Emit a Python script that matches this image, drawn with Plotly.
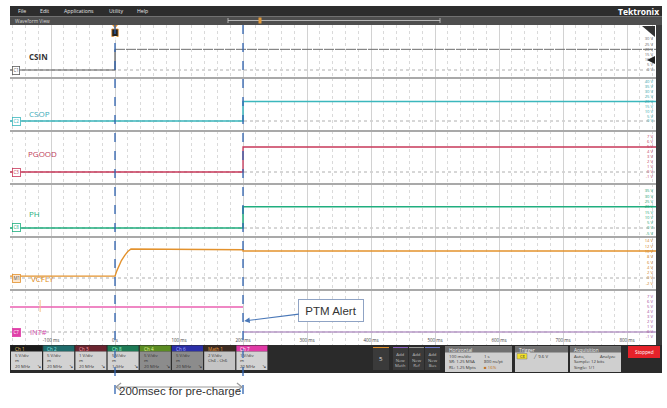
import plotly.graph_objects as go

# ---------------- data (ms / volts) ----------------
csin_t = [-164, 0, 0, 846]
csin_v = [0, 0, 20, 20]
step_t = [-164, 200, 200, 846]
csop_v = [0, 0, 20, 20]
pgood_v = [0, 0, 5, 5]
ph_v = [0, 0, 20, 20]
vcfly_t = [-164, 0, 3, 6, 10, 15, 20, 25, 100, 200, 200, 846]
vcfly_v = [0.7, 0.7, 2.8, 4.6, 6.6, 8.5, 10.0, 11.0, 10.8, 10.7, 10.2, 10.2]
int_t = [-164, 200, 200, 846]
int_v = [5, 5, 0, 0]
glitch_t = [-117, -117]
glitch_v = [4.0, 6.4]

cursor_t = [0, 200]
time_ticks = [-100, 0, 100, 200, 300, 400, 500, 600, 700, 800]
time_labels = ["-100 ms", "0 s", "100 ms", "200 ms", "300 ms", "400 ms",
               "500 ms", "600 ms", "700 ms", "800 ms"]

names = ["CSIN", "CSOP", "PGOOD", "PH", "VCFLY", "INT#"]
badges = ["C1", "C2", "C3", "C8", "M1", "C7"]
ytick_sets = [
    [0, 5, 10, 15, 20, 25, 30],
    [0, 5, 10, 15, 20, 25, 30, 35, 40],
    [-1, 0, 1, 2, 3, 4, 5, 6, 7],
    [-5, 0, 5, 10, 15, 20, 25, 30, 35],
    [-2, 0, 2, 4, 6, 8, 10, 12, 14],
    [-1, 0, 1, 2, 3, 4, 5, 6, 7],
]

box_names = ["Ch 1", "Ch 2", "Ch 3", "Ch 8", "Ch 4", "Ch 6", "Math 1", "Ch 7"]
box_scale = ["5 V/div", "5 V/div", "1 V/div", "5 V/div", "5 V/div", "5 V/div", "2 V/div", "1 V/div"]
box_line2 = ["m", "m", "m", "m", "m", "m", "Ch4 - Ch6", "m"]
box_bw = ["20 MHz", "20 MHz", "20 MHz", "1 GHz", "20 MHz", "20 MHz", "", "20 MHz"]

menu_items = ["File", "Edit", "Applications", "Utility", "Help"]

# ---------------- layout helpers ----------------
W, H = 667, 408
def X(p): return p / W
def Y(p): return 1 - p / H

T0_PX, PX_PER_MS = 115.0, 0.64
PL, PR = 10, 656
t_left = (PL - T0_PX) / PX_PER_MS
t_right = (PR - T0_PX) / PX_PER_MS

UI = "Open Sans"
AR = "Liberation Sans"

# panel geometry: top px, bottom px, zero px, px per volt
panels = [
    (25, 78, 70, 31 / 30),
    (78, 131, 121, 39 / 40),
    (131, 184, 172, 5.0),
    (184, 237, 228, 37 / 35),
    (237, 290, 278, 37 / 14),
    (290, 346, 332, 5.0),
]
name_px = [57, 113, 153, 213, 278, 331.5]
name_x = [27, 27, 26, 27, 29, 28]
name_size = [8, 8, 8, 8, 8, 7.5]
trace_cols = ["#5e5e5e", "#3bb7bd", "#c8385a", "#20ae7f", "#e3922d", "#ea5fb0"]
label_cols = ["#333333", "#3aaab8", "#c0405a", "#28b080", "#e08a20", "#d04aa8"]
tick_cols = ["#666666", "#2fa3a8", "#c04060", "#20a070", "#d08020", "#a04898"]

fig = go.Figure()

def add(t, v, ax, col, w=1.3, dash="solid"):
    fig.add_trace(go.Scatter(x=t, y=v, mode="lines", yaxis=ax,
                             line=dict(color=col, width=w, dash=dash), hoverinfo="skip"))

add(csin_t[:3], csin_v[:3], "y", trace_cols[0], 1.2)
add(csin_t[2:], csin_v[2:], "y", "#6e6e6e", 1.0, "10px,1px")
add(step_t, csop_v, "y2", trace_cols[1], 1.5)
add(step_t, pgood_v, "y3", trace_cols[2], 1.3)
add(step_t, ph_v, "y4", trace_cols[3], 1.5)
add(vcfly_t, vcfly_v, "y5", trace_cols[4], 1.4)
add(int_t[:2], int_v[:2], "y6", trace_cols[5], 1.3)
add(int_t[2:], int_v[2:], "y6", "#b99ac8", 1.3)
add(glitch_t, glitch_v, "y6", "#f5c08a", 1.0)

layout = dict(
    width=W, height=H, margin=dict(l=0, r=0, t=0, b=0),
    paper_bgcolor="white", plot_bgcolor="white", showlegend=False,
    xaxis=dict(domain=[X(PL), X(PR)], range=[t_left, t_right], anchor="y6",
               tickmode="array", tickvals=time_ticks, ticktext=time_labels,
               ticklabelposition="inside", ticks="",
               tickfont=dict(family=UI, size=4.5, color="#444"),
               showgrid=True, gridcolor="#d2d2d2", gridwidth=1,
               zeroline=False, showline=False,
               minor=dict(tick0=0, dtick=20, showgrid=True, gridcolor="#dadada",
                          griddash="dot", gridwidth=1)),
)

shapes = []
annotations = []

for i, (top, bot, zero, ppv) in enumerate(panels):
    key = "yaxis" if i == 0 else f"yaxis{i+1}"
    ref = "y" if i == 0 else f"y{i+1}"
    lo = -(bot - zero) / ppv
    hi = (zero - top) / ppv
    tv = ytick_sets[i]
    layout[key] = dict(domain=[Y(bot), Y(top)], range=[lo, hi], anchor="x",
                       side="right", ticklabelposition="inside", ticks="",
                       tickmode="array", tickvals=tv,
                       ticktext=[f"{v} V" for v in tv],
                       tickfont=dict(family=UI, size=4.2, color=tick_cols[i]),
                       showgrid=False, zeroline=False, showline=False)
    # ground reference dotted line
    shapes.append(dict(type="line", xref="paper", yref=ref, x0=X(PL), x1=X(PR),
                       y0=0, y1=0, layer="below",
                       line=dict(color="#9a9a9a", width=0.8, dash="dot")))
    # channel name
    annotations.append(dict(xref="paper", yref="paper", x=X(name_x[i]), y=Y(name_px[i]),
                            text=f"<b>{names[i]}</b>" if i == 0 else names[i],
                            showarrow=False, xanchor="left", yanchor="middle",
                            font=dict(family=UI, size=name_size[i], color=label_cols[i])))
    # badge
    if i == 5:
        bg, bc, fc = "#e040a8", "#e040a8", "white"
    elif i == 4:
        bg, bc, fc = "#fde6cc", "#e3922d", "#555"
    else:
        bg, bc, fc = "white", trace_cols[i], trace_cols[i]
    annotations.append(dict(xref="paper", yref=ref, x=X(16), y=0, text=badges[i],
                            showarrow=False, xanchor="center", yanchor="middle",
                            font=dict(family=UI, size=4.5, color=fc),
                            bgcolor=bg, bordercolor=bc, borderwidth=0.8, borderpad=0.6))

# panel separators
for yy in [78, 131, 184, 237, 290]:
    shapes.append(dict(type="line", xref="paper", yref="paper", x0=X(PL), x1=X(PR),
                       y0=Y(yy), y1=Y(yy), line=dict(color="#a9a9a9", width=2)))

def rect(x0, y0, x1, y1, fill, line=None, layer="above"):
    shapes.append(dict(type="rect", xref="paper", yref="paper",
                       x0=X(x0), x1=X(x1), y0=Y(y1), y1=Y(y0), fillcolor=fill,
                       line=dict(width=0) if line is None else line, layer=layer))

def text(x, y, s, size, color, anchor="left", family=UI):
    annotations.append(dict(xref="paper", yref="paper", x=X(x), y=Y(y), text=s,
                            showarrow=False, xanchor=anchor, yanchor="middle",
                            font=dict(family=family, size=size, color=color)))

# right edge strip
rect(656, 25, 662, 345, "#3a3a3a")
# top menu bar & waveform view bar
rect(10, 6, 662, 16.5, "#2d2d2d")
rect(10, 16.5, 662, 25, "#4e4e4e")
xs = [16, 38, 62, 107, 135]
for xm, m in zip(xs, menu_items):
    text(xm, 11.3, m, 5.2, "#e6e6e6")
text(661, 11, "<b>Tektronix</b>", 8.5, "white", anchor="right")
text(13, 20.8, "Waveform View", 4.8, "#d8d8d8")
shapes.append(dict(type="line", xref="paper", yref="paper", x0=X(228), x1=X(440),
                   y0=Y(20.5), y1=Y(20.5), line=dict(color="#cfcfcf", width=0.8)))
for xb in [228, 440]:
    shapes.append(dict(type="line", xref="paper", yref="paper", x0=X(xb), x1=X(xb),
                       y0=Y(18), y1=Y(23), line=dict(color="#cfcfcf", width=0.8)))
rect(258.5, 17.5, 261.5, 23.5, "#e39a3a")

# top-right triangle and trigger arrow
shapes.append(dict(type="path", xref="paper", yref="paper",
                   path=f"M {X(642)},{Y(26)} L {X(655)},{Y(26)} L {X(655)},{Y(37)} Z",
                   fillcolor="#333", line=dict(width=0)))
shapes.append(dict(type="path", xref="paper", yref="paper",
                   path=f"M {X(647)},{Y(60)} L {X(655)},{Y(56)} L {X(655)},{Y(64)} Z",
                   fillcolor="#222", line=dict(width=0)))

# bottom dark panel
rect(10, 345, 662, 373, "#2a2a2a")
head_cols = ["#1b1b1b", "#1f6b6b", "#6b2530", "#1d7a55", "#5b8c22", "#2b2fa8", "#3b2b22", "#e03aa6"]
head_txt = ["#e8c060", "#8fe6e6", "#ffa0ae", "#a0ffd4", "#e0f590", "#b0b8ff", "#f0a040", "#ffffff"]
body_cols = ["#d2d2d2", "#d2d2d2", "#d2d2d2", "#d2d2d2", "#8c8c8c", "#8c8c8c", "#c4c4c4", "#d2d2d2"]
for i in range(len(box_names)):
    x0 = 11 + 32.2 * i
    rect(x0, 345.5, x0 + 31, 351.5, head_cols[i])
    rect(x0, 351.5, x0 + 31, 370, body_cols[i])
    text(x0 + 2, 348.6, box_names[i], 4.6, head_txt[i])
    text(x0 + 2, 354.8, box_scale[i], 4.3, "#333")
    text(x0 + 2, 360, box_line2[i], 4.3, "#333")
    if box_bw[i]:
        text(x0 + 2, 366.2, box_bw[i], 4.3, "#333")
        text(x0 + 28, 366.2, "↘", 4.5, "#333", anchor="center")

# right-side controls
rect(373, 347, 389, 370, "#3a3a3a")
rect(373, 347, 389, 348, "#e0902a")
text(381, 359, "5", 6, "#e0e0e0", anchor="center")
for xb, tc, lab in [(393, "#8a62c0", "Add<br>New<br>Math"), (409, "#9a9a9a", "Add<br>New<br>Ref"),
                    (425, "#6f78c8", "Add<br>New<br>Bus")]:
    rect(xb, 347, xb + 15, 370, "#3a3a3a")
    rect(xb, 347, xb + 15, 348, tc)
    annotations.append(dict(xref="paper", yref="paper", x=X(xb + 7.5), y=Y(359), text=lab,
                            showarrow=False, xanchor="center", yanchor="middle",
                            font=dict(family=UI, size=4.3, color="#bdbdbd")))
for x0, x1, title in [(445, 512, "Horizontal"), (515, 568, "Trigger"), (570, 621, "Acquisition")]:
    rect(x0, 346.5, x1, 372, "#cfcfcf")
    rect(x0, 346.5, x1, 352.5, "#6f6f6f")
    text(x0 + 2, 349.6, title, 4.8, "#f0f0f0")
text(447, 355.5, "100 ms/div", 4.3, "#333")
text(482, 355.5, "1 s", 4.3, "#333")
text(447, 361, "SR: 1.25 MSA", 4.3, "#333")
text(482, 361, "800 ns/pt", 4.3, "#333")
text(447, 366.5, "RL: 1.25 Mpts", 4.3, "#333")
text(482, 366.5, "■ 16%", 4.3, "#c07020")
rect(517, 353.5, 527, 359, "#f2e02a", line=dict(color="#777", width=0.5))
text(522, 356.3, "C8", 3.8, "#333", anchor="center")
text(531, 356.3, "╱  9.6 V", 4.3, "#333")
text(572, 355.5, "Auto,", 4.3, "#333")
text(618, 355.5, "Analyze", 4.3, "#333", anchor="right")
text(572, 361, "Sample: 12 bits", 4.3, "#333")
text(572, 366.5, "Single: 1/1", 4.3, "#333")
rect(628, 346, 660, 358, "#e5222a")
text(644, 352, "Stopped", 4.8, "white", anchor="center")

# trigger T marker at top of first cursor
shapes.append(dict(type="path", xref="x", yref="paper",
                   path=f"M {cursor_t[0]-4.5},{Y(25)} L {cursor_t[0]+4.5},{Y(25)} L {cursor_t[0]},{Y(28.5)} Z",
                   fillcolor="#e8902a", line=dict(width=0)))
shapes.append(dict(type="rect", xref="x", yref="paper", x0=cursor_t[0] - 5, x1=cursor_t[0] + 5,
                   y0=Y(36.5), y1=Y(29), fillcolor="#222", line=dict(color="#e8902a", width=0.8)))
annotations.append(dict(xref="x", yref="paper", x=cursor_t[0], y=Y(32.8), text="<b>T</b>",
                        showarrow=False, font=dict(family=UI, size=5, color="white")))

# cursors
for ct in cursor_t:
    shapes.append(dict(type="line", xref="x", yref="paper", x0=ct, x1=ct,
                       y0=Y(25), y1=Y(400), layer="above",
                       line=dict(color="#2f63b0", width=1.3, dash="dash")))

# double arrow for pre-charge span
ya = Y(387)
shapes.append(dict(type="line", xref="x", yref="paper", x0=cursor_t[0] + 1.5, x1=cursor_t[1] - 1.5,
                   y0=ya, y1=ya, line=dict(color="#9a9a9a", width=1.2)))
d = 8
shapes.append(dict(type="path", xref="x", yref="paper",
                   path=f"M {cursor_t[0]+1.5+d},{Y(383)} L {cursor_t[0]+1.5},{ya} L {cursor_t[0]+1.5+d},{Y(391)}",
                   line=dict(color="#9a9a9a", width=1.2)))
shapes.append(dict(type="path", xref="x", yref="paper",
                   path=f"M {cursor_t[1]-1.5-d},{Y(383)} L {cursor_t[1]-1.5},{ya} L {cursor_t[1]-1.5-d},{Y(391)}",
                   line=dict(color="#9a9a9a", width=1.2)))
annotations.append(dict(xref="x", yref="paper", x=(cursor_t[0] + cursor_t[1]) / 2 + 1, y=Y(398.5),
                        text="200msec for pre-charge", showarrow=False,
                        font=dict(family=AR, size=11.5, color="#333")))

# PTM Alert callout
annotations.append(dict(xref="x", yref="y6", x=cursor_t[1] + 2, y=2.2, text="PTM Alert",
                        showarrow=True, ax=87, ay=-11, axref="pixel", ayref="pixel",
                        arrowhead=2, arrowsize=1, arrowwidth=1.1, arrowcolor="#4a78b8",
                        font=dict(family=AR, size=11.5, color="#333"),
                        bgcolor="white", bordercolor="#8fa3c4", borderwidth=1,
                        borderpad=4, width=56, height=13))

layout["shapes"] = shapes
layout["annotations"] = annotations
fig.update_layout(**layout)
fig.write_html("out.html", config={"displayModeBar": False, "staticPlot": True},
               post_script="document.body.style.margin='0';document.body.style.overflow='hidden';")
